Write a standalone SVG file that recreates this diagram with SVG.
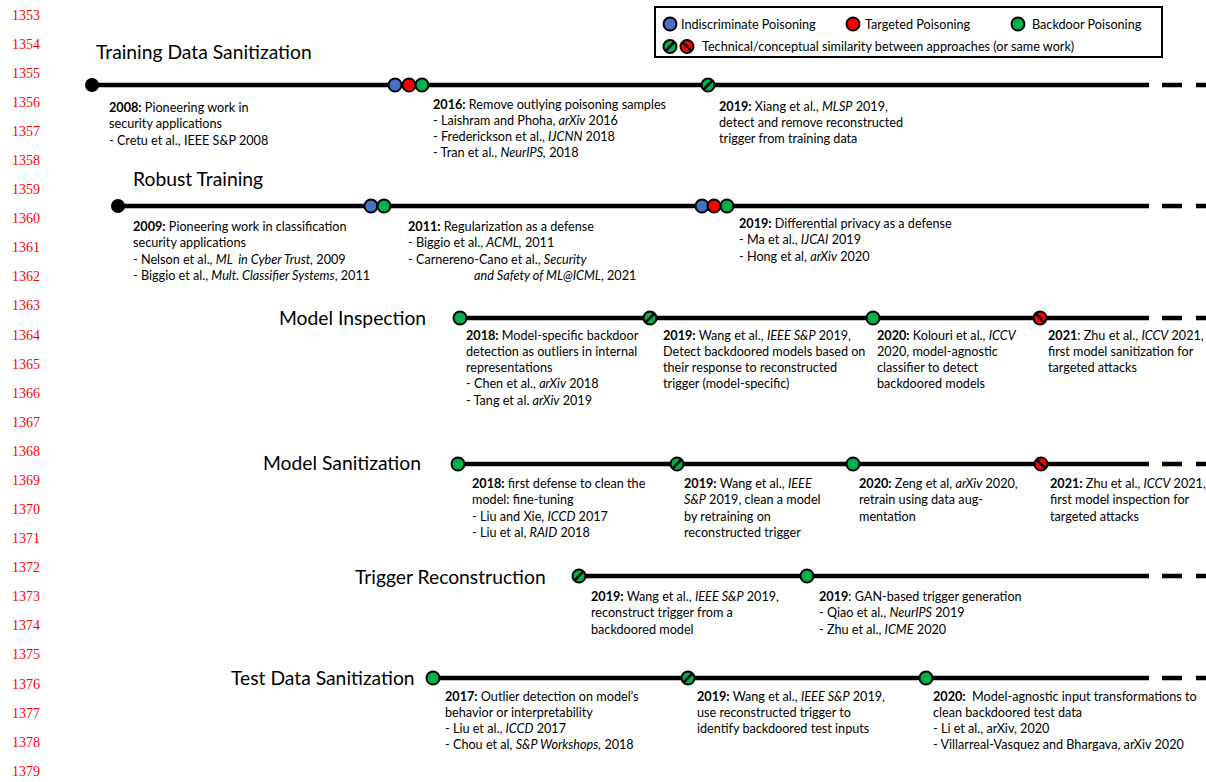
<svg xmlns="http://www.w3.org/2000/svg" xmlns:xlink="http://www.w3.org/1999/xlink" width="1206" height="782" viewBox="0 0 1206 782">
<style>
.ln{font-family:"Liberation Serif",serif;font-size:14px;fill:#f00}
.t{font-family:Lato,"Liberation Sans",sans-serif;font-size:12.65px;fill:#000;white-space:pre}
.h{font-family:Lato,"Liberation Sans",sans-serif;font-size:19.3px;fill:#000}
.b{font-weight:bold}
.i{font-style:italic}
.tl{stroke:#000;stroke-width:4.5;fill:none}
.dash{stroke:#000;stroke-width:4.5;stroke-dasharray:20 14;fill:none}
.blue{fill:#4472C4;stroke:#000;stroke-width:2}
.red{fill:#FF0000;stroke:#000;stroke-width:2}
.green{fill:#00B050;stroke:#000;stroke-width:2}
</style>
<defs>
<g id="hg"><circle r="6.5" class="green"/><line x1="-4.3" y1="4.3" x2="4.3" y2="-4.3" stroke="#000" stroke-width="2.6"/></g>
<g id="hr"><circle r="6.5" class="red"/><line x1="-4.3" y1="-4.3" x2="4.3" y2="4.3" stroke="#000" stroke-width="2.6"/></g>
</defs>
<rect width="1206" height="782" fill="#fff"/>
<g id="line-numbers">
<text class="ln" x="12" y="19.6">1353</text>
<text class="ln" x="12" y="48.7">1354</text>
<text class="ln" x="12" y="77.8">1355</text>
<text class="ln" x="12" y="106.9">1356</text>
<text class="ln" x="12" y="136">1357</text>
<text class="ln" x="12" y="165">1358</text>
<text class="ln" x="12" y="194.1">1359</text>
<text class="ln" x="12" y="223.2">1360</text>
<text class="ln" x="12" y="252.3">1361</text>
<text class="ln" x="12" y="281.4">1362</text>
<text class="ln" x="12" y="310.4">1363</text>
<text class="ln" x="12" y="339.5">1364</text>
<text class="ln" x="12" y="368.6">1365</text>
<text class="ln" x="12" y="397.7">1366</text>
<text class="ln" x="12" y="426.8">1367</text>
<text class="ln" x="12" y="455.9">1368</text>
<text class="ln" x="12" y="484.9">1369</text>
<text class="ln" x="12" y="514">1370</text>
<text class="ln" x="12" y="543.1">1371</text>
<text class="ln" x="12" y="572.2">1372</text>
<text class="ln" x="12" y="601.3">1373</text>
<text class="ln" x="12" y="630.4">1374</text>
<text class="ln" x="12" y="659.4">1375</text>
<text class="ln" x="12" y="688.5">1376</text>
<text class="ln" x="12" y="717.6">1377</text>
<text class="ln" x="12" y="746.7">1378</text>
<text class="ln" x="12" y="775.8">1379</text>
</g>
<g id="legend">
<rect x="655" y="7" width="507" height="50" fill="#fff" stroke="#000" stroke-width="2"/>
<circle cx="670" cy="24" r="6.5" class="blue"/>
<text class="t" x="681" y="28.5">Indiscriminate Poisoning</text>
<circle cx="853" cy="24" r="6.5" class="red"/>
<text class="t" x="865" y="28.5">Targeted Poisoning</text>
<circle cx="1018" cy="24" r="6.5" class="green"/>
<text class="t" x="1032" y="28.5">Backdoor Poisoning</text>
<use xlink:href="#hg" x="670" y="46.5"/>
<use xlink:href="#hr" x="687" y="46.5"/>
<text class="t" x="702" y="51">Technical/conceptual similarity between approaches (or same work)</text>
</g>
<g id="timelines">
<line class="tl" x1="92" y1="85" x2="1149" y2="85"/><line class="dash" x1="1162" y1="85" x2="1216" y2="85"/>
<line class="tl" x1="118" y1="206" x2="1149" y2="206"/><line class="dash" x1="1162" y1="206" x2="1216" y2="206"/>
<line class="tl" x1="460" y1="318" x2="1149" y2="318"/><line class="dash" x1="1162" y1="318" x2="1216" y2="318"/>
<line class="tl" x1="458" y1="464" x2="1149" y2="464"/><line class="dash" x1="1162" y1="464" x2="1216" y2="464"/>
<line class="tl" x1="579" y1="576" x2="1149" y2="576"/><line class="dash" x1="1162" y1="576" x2="1216" y2="576"/>
<line class="tl" x1="433" y1="678" x2="1149" y2="678"/><line class="dash" x1="1162" y1="678" x2="1216" y2="678"/>
</g>
<g id="training-data-sanitization">
<text class="h" x="96" y="59">Training Data Sanitization</text>
<g id="tds-2008"><circle cx="92" cy="85" r="7" fill="#000"/>
<text class="t" x="109" y="112"><tspan class="b">2008:</tspan> Pioneering work in</text>
<text class="t" x="109" y="128.3">security applications</text>
<text class="t" x="109" y="144.6">- Cretu et al., IEEE S&amp;P 2008</text></g>
<g id="tds-2016"><circle cx="395" cy="85" r="6.5" class="blue"/><circle cx="409" cy="85" r="6.5" class="red"/><circle cx="422" cy="85" r="6.5" class="green"/>
<text class="t" x="433" y="108.5"><tspan class="b">2016:</tspan> Remove outlying poisoning samples</text>
<text class="t" x="433" y="124.8">- Laishram and Phoha, <tspan class="i">arXiv</tspan> 2016</text>
<text class="t" x="433" y="141.1">- Frederickson et al., <tspan class="i">IJCNN</tspan> 2018</text>
<text class="t" x="433" y="157.4">- Tran et al., <tspan class="i">NeurIPS,</tspan> 2018</text></g>
<g id="tds-2019"><use xlink:href="#hg" x="708" y="85"/>
<text class="t" x="719" y="110.5"><tspan class="b">2019:</tspan> Xiang et al., <tspan class="i">MLSP</tspan> 2019,</text>
<text class="t" x="719" y="126.8">detect and remove reconstructed</text>
<text class="t" x="719" y="143.1">trigger from training data</text></g>
</g>
<g id="robust-training">
<text class="h" x="133" y="186">Robust Training</text>
<g id="rt-2009"><circle cx="118" cy="206" r="7" fill="#000"/>
<text class="t" x="133" y="231"><tspan class="b">2009:</tspan> Pioneering work in classification</text>
<text class="t" x="133" y="247.3">security applications</text>
<text class="t" x="133" y="263.6">- Nelson et al., <tspan class="i">ML  in Cyber Trust,</tspan> 2009</text>
<text class="t" x="133" y="279.9">- Biggio et al., <tspan class="i">Mult. Classifier Systems</tspan>, 2011</text></g>
<g id="rt-2011"><circle cx="371" cy="206" r="6.5" class="blue"/><circle cx="384" cy="206" r="6.5" class="green"/>
<text class="t" x="408" y="231"><tspan class="b">2011:</tspan> Regularization as a defense</text>
<text class="t" x="408" y="247.3">- Biggio et al., <tspan class="i">ACML,</tspan> 2011</text>
<text class="t" x="408" y="263.6">- Carnereno-Cano et al., <tspan class="i">Security</tspan></text>
<text class="t" x="474" y="279.9"><tspan class="i">and Safety of ML@ICML</tspan>, 2021</text></g>
<g id="rt-2019"><circle cx="702" cy="206" r="6.5" class="blue"/><circle cx="714" cy="206" r="6.5" class="red"/><circle cx="727" cy="206" r="6.5" class="green"/>
<text class="t" x="739" y="227.5"><tspan class="b">2019:</tspan> Differential privacy as a defense</text>
<text class="t" x="739" y="244">- Ma et al., <tspan class="i">IJCAI</tspan> 2019</text>
<text class="t" x="739" y="260.5">- Hong et al, <tspan class="i">arXiv</tspan> 2020</text></g>
</g>
<g id="model-inspection">
<text class="h" x="279" y="324.5">Model Inspection</text>
<g id="mi-2018"><circle cx="460" cy="318" r="6.5" class="green"/>
<text class="t" x="466" y="339.5"><tspan class="b">2018:</tspan> Model-specific backdoor</text>
<text class="t" x="466" y="355.8">detection as outliers in internal</text>
<text class="t" x="466" y="372.1">representations</text>
<text class="t" x="466" y="388.4">- Chen et al., <tspan class="i">arXiv</tspan> 2018</text>
<text class="t" x="466" y="404.7">- Tang et al. <tspan class="i">arXiv</tspan> 2019</text></g>
<g id="mi-2019"><use xlink:href="#hg" x="650" y="318"/>
<text class="t" x="663" y="339.5"><tspan class="b">2019:</tspan> Wang et al., <tspan class="i">IEEE S&amp;P</tspan> 2019,</text>
<text class="t" x="663" y="355.8">Detect backdoored models based on</text>
<text class="t" x="663" y="372.1">their response to reconstructed</text>
<text class="t" x="663" y="388.4">trigger (model-specific)</text></g>
<g id="mi-2020"><circle cx="873" cy="318" r="6.5" class="green"/>
<text class="t" x="877" y="339.5"><tspan class="b">2020:</tspan> Kolouri et al., <tspan class="i">ICCV</tspan></text>
<text class="t" x="877" y="355.8">2020, model-agnostic</text>
<text class="t" x="877" y="372.1">classifier to detect</text>
<text class="t" x="877" y="388.4">backdoored models</text></g>
<g id="mi-2021"><use xlink:href="#hr" x="1040" y="318"/>
<text class="t" x="1048" y="339.5"><tspan class="b">2021</tspan>: Zhu et al., <tspan class="i">ICCV</tspan> 2021,</text>
<text class="t" x="1048" y="355.8">first model sanitization for</text>
<text class="t" x="1048" y="372.1">targeted attacks</text></g>
</g>
<g id="model-sanitization">
<text class="h" x="263" y="470.4">Model Sanitization</text>
<g id="ms-2018"><circle cx="458" cy="464" r="6.5" class="green"/>
<text class="t" x="472" y="488"><tspan class="b">2018:</tspan> first defense to clean the</text>
<text class="t" x="472" y="504.3">model: fine-tuning</text>
<text class="t" x="472" y="520.6">- Liu and Xie, <tspan class="i">ICCD</tspan> 2017</text>
<text class="t" x="472" y="536.9">- Liu et al, <tspan class="i">RAID</tspan> 2018</text></g>
<g id="ms-2019"><use xlink:href="#hg" x="677" y="464"/>
<text class="t" x="684" y="488"><tspan class="b">2019:</tspan> Wang et al., <tspan class="i">IEEE</tspan></text>
<text class="t" x="684" y="504.3"><tspan class="i">S&amp;P</tspan> 2019, clean a model</text>
<text class="t" x="684" y="520.6">by retraining on</text>
<text class="t" x="684" y="536.9">reconstructed trigger</text></g>
<g id="ms-2020"><circle cx="853" cy="464" r="6.5" class="green"/>
<text class="t" x="859" y="488"><tspan class="b">2020:</tspan> Zeng et al, <tspan class="i">arXiv</tspan> 2020,</text>
<text class="t" x="859" y="504.3">retrain using data aug-</text>
<text class="t" x="859" y="520.6">mentation</text></g>
<g id="ms-2021"><use xlink:href="#hr" x="1041" y="464"/>
<text class="t" x="1050" y="488"><tspan class="b">2021:</tspan> Zhu et al., <tspan class="i">ICCV</tspan> 2021,</text>
<text class="t" x="1050" y="504.3">first model inspection for</text>
<text class="t" x="1050" y="520.6">targeted attacks</text></g>
</g>
<g id="trigger-reconstruction">
<text class="h" x="355" y="583.7">Trigger Reconstruction</text>
<g id="tr-2019a"><use xlink:href="#hg" x="579" y="576"/>
<text class="t" x="591" y="601"><tspan class="b">2019:</tspan> Wang et al., <tspan class="i">IEEE S&amp;P</tspan> 2019,</text>
<text class="t" x="591" y="617.3">reconstruct trigger from a</text>
<text class="t" x="591" y="633.6">backdoored model</text></g>
<g id="tr-2019b"><circle cx="807" cy="576" r="6.5" class="green"/>
<text class="t" x="819" y="601"><tspan class="b">2019</tspan>: GAN-based trigger generation</text>
<text class="t" x="819" y="617.3">- Qiao et al., <tspan class="i">NeurIPS</tspan> 2019</text>
<text class="t" x="819" y="633.6">- Zhu et al., <tspan class="i">ICME</tspan> 2020</text></g>
</g>
<g id="test-data-sanitization">
<text class="h" x="231" y="685.4">Test Data Sanitization</text>
<g id="tes-2017"><circle cx="433" cy="678" r="6.5" class="green"/>
<text class="t" x="445" y="700.5"><tspan class="b">2017:</tspan> Outlier detection on model’s</text>
<text class="t" x="445" y="716.8">behavior or interpretability</text>
<text class="t" x="445" y="733.1">- Liu et al., <tspan class="i">ICCD</tspan> 2017</text>
<text class="t" x="445" y="749.4">- Chou et al, <tspan class="i">S&amp;P Workshops,</tspan> 2018</text></g>
<g id="tes-2019"><use xlink:href="#hg" x="688" y="678"/>
<text class="t" x="697" y="700.5"><tspan class="b">2019:</tspan> Wang et al., <tspan class="i">IEEE S&amp;P</tspan> 2019,</text>
<text class="t" x="697" y="716.8">use reconstructed trigger to</text>
<text class="t" x="697" y="733.1">identify backdoored test inputs</text></g>
<g id="tes-2020"><circle cx="926" cy="678" r="6.5" class="green"/>
<text class="t" x="933" y="700.5"><tspan class="b">2020:</tspan>  Model-agnostic input transformations to</text>
<text class="t" x="933" y="716.8">clean backdoored test data</text>
<text class="t" x="933" y="733.1">- Li et al., arXiv, 2020</text>
<text class="t" x="933" y="749.4">- Villarreal-Vasquez and Bhargava, arXiv 2020</text></g>
</g>
</svg>
